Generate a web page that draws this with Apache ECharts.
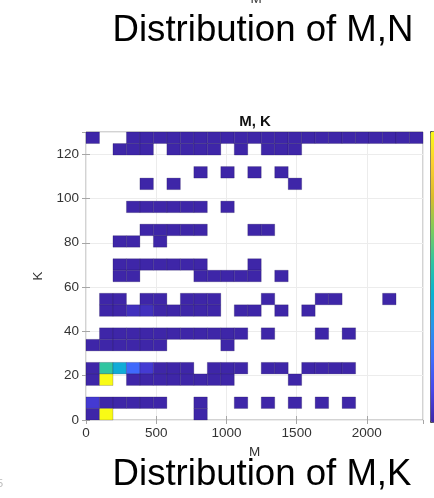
<!DOCTYPE html>
<html><head><meta charset="utf-8">
<script src="https://cdn.jsdelivr.net/npm/echarts@6/dist/echarts.min.js"></script>
<style>html,body{margin:0;padding:0;background:#fff}#c{width:434px;height:498px}</style>
</head><body><div id="c"></div>
<script>
// Axis ranges and bin sizes (histogram2d, 25 x 25 bins)
const mRange = [0, 2400];
const kRange = [0, 130];
const binM = 96;
const binK = 5.2;
const xTickStep = 500;
const yTickStep = 20;
const countMin = 1;
const countMax = 30;

// Bin counts, rows from top (K high) to bottom (K low), columns M low -> high
const counts = [
  [1,0,0,1,1,1,1,1,1,1,1,1,1,1,1,1,1,1,1,1,1,1,1,1,1],
  [0,0,1,1,1,0,1,1,1,1,0,1,0,1,1,1,0,0,0,0,0,0,0,0,0],
  [0,0,0,0,0,0,0,0,0,0,0,0,0,0,0,0,0,0,0,0,0,0,0,0,0],
  [0,0,0,0,0,0,0,0,1,0,1,0,1,0,1,0,0,0,0,0,0,0,0,0,0],
  [0,0,0,0,1,0,1,0,0,0,0,0,0,0,0,1,0,0,0,0,0,0,0,0,0],
  [0,0,0,0,0,0,0,0,0,0,0,0,0,0,0,0,0,0,0,0,0,0,0,0,0],
  [0,0,0,1,1,1,1,1,1,0,1,0,0,0,0,0,0,0,0,0,0,0,0,0,0],
  [0,0,0,0,0,0,0,0,0,0,0,0,0,0,0,0,0,0,0,0,0,0,0,0,0],
  [0,0,0,0,1,1,1,1,1,0,0,0,1,1,0,0,0,0,0,0,0,0,0,0,0],
  [0,0,1,1,0,1,0,0,0,0,0,0,0,0,0,0,0,0,0,0,0,0,0,0,0],
  [0,0,0,0,0,0,0,0,0,0,0,0,0,0,0,0,0,0,0,0,0,0,0,0,0],
  [0,0,1,1,1,1,1,1,1,0,0,0,1,0,0,0,0,0,0,0,0,0,0,0,0],
  [0,0,1,1,0,0,0,0,1,1,1,1,1,0,1,0,0,0,0,0,0,0,0,0,0],
  [0,0,0,0,0,0,0,0,0,0,0,0,0,0,0,0,0,0,0,0,0,0,0,0,0],
  [0,1,1,0,1,1,0,1,1,1,0,0,0,1,0,0,0,1,1,0,0,0,1,0,0],
  [0,1,1,2,2,1,1,1,1,1,0,1,1,0,1,0,1,0,0,0,0,0,0,0,0],
  [0,0,0,0,0,0,0,0,0,0,0,0,0,0,0,0,0,0,0,0,0,0,0,0,0],
  [0,1,1,1,1,1,1,1,1,1,1,1,0,1,0,0,0,1,0,1,0,0,0,0,0],
  [1,1,1,1,1,1,0,0,0,0,1,0,0,0,0,0,0,0,0,0,0,0,0,0,0],
  [0,0,0,0,0,0,0,0,0,0,0,0,0,0,0,0,0,0,0,0,0,0,0,0,0],
  [1,17,13,7,3,1,1,1,0,1,1,1,0,1,1,0,1,1,1,1,0,0,0,0,0],
  [1,30,0,1,1,1,1,1,1,1,1,0,0,0,0,1,0,0,0,0,0,0,0,0,0],
  [0,0,0,0,0,0,0,0,0,0,0,0,0,0,0,0,0,0,0,0,0,0,0,0,0],
  [3,1,1,1,1,1,0,0,1,0,0,1,0,1,0,1,0,1,0,1,0,0,0,0,0],
  [1,30,0,0,0,0,0,0,1,0,0,0,0,0,0,0,0,0,0,0,0,0,0,0,0]
];

const parula = ['#3e26a8','#4747eb','#3e6fff','#2796eb','#08b4d0',
                '#31c69f','#80cc59','#dcbd29','#fccf30','#f9fb15'];

const cells = [];
counts.forEach((row, t) => {
  row.forEach((v, c) => {
    if (v > 0) cells.push([mRange[0] + c * binM, kRange[1] - (t + 1) * binK, v]);
  });
});

const FONT = '"Liberation Sans", Arial, Helvetica, sans-serif';
const axisGrey = '#a6a6a6';
const plain = v => String(v);
const chart = echarts.init(document.getElementById('c'), null, {renderer: 'canvas'});

chart.setOption({
  animation: false,
  backgroundColor: '#fff',
  textStyle: {fontFamily: FONT},
  grid: {left: 86, right: 11, top: 132, bottom: 78, show: true,
         borderColor: axisGrey, borderWidth: 1, backgroundColor: 'transparent'},
  visualMap: {
    type: 'continuous', min: countMin, max: countMax, dimension: 2, seriesIndex: 0,
    inRange: {color: parula}, calculable: false, hoverLink: false,
    left: 430, top: 131, itemWidth: 20, itemHeight: 291, padding: 0,
    borderColor: '#4d4d4d', borderWidth: 1
  },
  xAxis: [{
    type: 'value', min: mRange[0], max: mRange[1], interval: xTickStep,
    axisLine: {show: false},
    axisTick: {show: true, inside: true, length: 4, lineStyle: {color: axisGrey}},
    axisLabel: {fontSize: 13.5, color: '#333', margin: 6, showMaxLabel: false,
                fontFamily: FONT, formatter: plain},
    splitLine: {show: true, lineStyle: {color: '#ececec', width: 1}},
    name: 'M', nameLocation: 'middle', nameGap: 25,
    nameTextStyle: {fontSize: 13.5, color: '#333', fontFamily: FONT}
  }, {
    type: 'value', position: 'top', min: mRange[0], max: mRange[1], interval: xTickStep,
    axisLine: {show: false}, axisLabel: {show: false}, splitLine: {show: false},
    axisTick: {show: true, inside: true, length: 4, lineStyle: {color: axisGrey}}
  }],
  yAxis: [{
    type: 'value', min: kRange[0], max: kRange[1], interval: yTickStep,
    axisLine: {show: false},
    axisTick: {show: true, inside: true, length: 4, lineStyle: {color: axisGrey}},
    axisLabel: {fontSize: 13.5, color: '#333', margin: 7, showMaxLabel: false,
                fontFamily: FONT, formatter: plain},
    splitLine: {show: true, lineStyle: {color: '#ececec', width: 1}},
    name: 'K', nameLocation: 'middle', nameGap: 31, nameRotate: 90,
    nameTextStyle: {fontSize: 13.5, color: '#333', fontFamily: FONT}
  }, {
    type: 'value', position: 'right', min: kRange[0], max: kRange[1], interval: yTickStep,
    axisLine: {show: false}, axisLabel: {show: false}, splitLine: {show: false},
    axisTick: {show: true, inside: true, length: 4, lineStyle: {color: axisGrey}}
  }],
  series: [{
    type: 'custom',
    xAxisIndex: 0, yAxisIndex: 0,
    data: cells,
    encode: {x: 0, y: 1},
    renderItem: function (params, api) {
      const m = api.value(0), k = api.value(1);
      const p0 = api.coord([m, k + binK]);
      const p1 = api.coord([m + binM, k]);
      return {
        type: 'rect',
        shape: {x: p0[0], y: p0[1], width: p1[0] - p0[0], height: p1[1] - p0[1]},
        style: {fill: api.visual('color'), stroke: 'rgba(20,10,60,0.35)', lineWidth: 0.6}
      };
    }
  }],
  graphic: [
    {type: 'text', x: 255, y: 122, z: 100, style: {text: 'M, K', font: 'bold 15px ' + FONT,
      fill: '#111', align: 'center', verticalAlign: 'middle'}},
    {type: 'text', x: 263, y: 31, style: {text: 'Distribution of M,N', font: '36.6px ' + FONT,
      fill: '#000', align: 'center', verticalAlign: 'middle'}},
    {type: 'text', x: 262, y: 475, style: {text: 'Distribution of M,K', font: '36.6px ' + FONT,
      fill: '#000', align: 'center', verticalAlign: 'middle'}},
    {type: 'text', x: 256, y: -1, style: {text: 'M', font: '13.5px ' + FONT,
      fill: '#333', align: 'center', verticalAlign: 'middle'}},
    {type: 'text', x: -3, y: 484, style: {text: '5', font: '11px ' + FONT,
      fill: '#bbb', align: 'left', verticalAlign: 'middle'}}
  ]
});
</script></body></html>
